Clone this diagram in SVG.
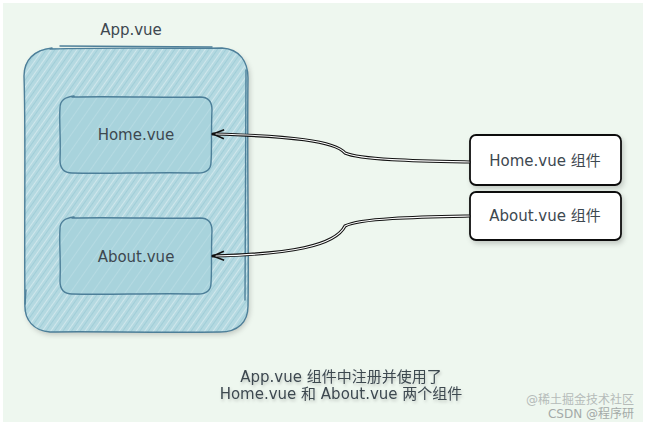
<svg xmlns="http://www.w3.org/2000/svg" width="648" height="427" viewBox="0 0 648 427">
<defs>
<style>
.lbl{font-family:"DejaVu Sans","Noto Sans CJK SC",sans-serif;font-size:15px;fill:#3d4850;text-anchor:middle}
.blue{stroke:#4d7f99;stroke-width:1.4;fill:none;stroke-linecap:round}
.wbox{fill:#ffffff;stroke:#111;stroke-width:1.8}
.conn{fill:none;stroke:#111;stroke-width:3.2;stroke-linecap:round}
.conn2{fill:none;stroke:#fff;stroke-width:1.1;stroke-linecap:round}
.wm{font-family:"DejaVu Sans","Noto Sans CJK SC",sans-serif;font-size:12px;fill:#b5bbb9;text-anchor:end}
</style>
<pattern id="hatch" width="7" height="7" patternUnits="userSpaceOnUse" patternTransform="rotate(35)">
<rect width="7" height="7" fill="#b4d9e1"/>
<line x1="0" y1="0" x2="0" y2="7" stroke="#e0f0f2" stroke-width="1.3"/>
<line x1="3.5" y1="0" x2="3.5" y2="7" stroke="#9ccbd6" stroke-width="0.8"/>
</pattern>
<pattern id="hatch2" width="9" height="9" patternUnits="userSpaceOnUse" patternTransform="rotate(35)">
<rect width="9" height="9" fill="#a8d3dc"/>
<line x1="0" y1="0" x2="0" y2="9" stroke="#c3e2e8" stroke-width="1"/>
</pattern>
<filter id="sh" x="-10%" y="-10%" width="130%" height="130%">
<feDropShadow dx="2" dy="3" stdDeviation="2.5" flood-color="#000" flood-opacity="0.18"/>
</filter>
<filter id="tsh" x="-5%" y="-20%" width="110%" height="160%">
<feDropShadow dx="1" dy="2" stdDeviation="1.5" flood-color="#000" flood-opacity="0.2"/>
</filter>
<marker id="arr" markerWidth="14" markerHeight="14" refX="12" refY="6" orient="auto" markerUnits="userSpaceOnUse">
<path d="M1,1.5 L12,6 L1,10.5" fill="none" stroke="#111" stroke-width="1.6" stroke-linejoin="round"/>
</marker>
</defs>
<rect x="0" y="0" width="648" height="427" fill="#ffffff"/>
<rect x="3" y="3" width="640" height="419" fill="#eef7ef"/>

<g id="app">
<rect x="24" y="48" width="224" height="284" rx="26" fill="url(#hatch)" filter="url(#sh)"/>
<path class="blue" d="M50,49 C120,47 190,49 222,48 C240,49 248,62 248,78 C247,160 249,250 248,306 C248,322 238,332 220,332 C150,333 90,331 50,332 C34,331 24,320 25,304 C24,220 26,140 24,76 C24,60 34,50 52,48"/>
<path class="blue" d="M60,46 L212,47 M26,290 L25,304 M246,70 L245,300" stroke-width="0.9"/>
<text class="lbl" x="131" y="35">App.vue</text>
</g>

<g id="home">
<rect x="60" y="97" width="152" height="76" rx="12" fill="url(#hatch2)"/>
<path class="blue" d="M72,97 C120,96 170,98 200,97 C208,97 212,102 212,110 C211,130 212,150 211,162 C211,170 206,173 198,173 C150,172 110,174 72,173 C64,173 60,168 60,160 C61,140 59,120 60,108 C60,100 65,97 74,96"/>
<text class="lbl" x="136" y="140">Home.vue</text>
</g>

<g id="about">
<rect x="60" y="218" width="152" height="76" rx="12" fill="url(#hatch2)"/>
<path class="blue" d="M72,218 C120,217 170,219 200,218 C208,218 212,223 212,231 C211,251 212,271 211,283 C211,291 206,294 198,294 C150,293 110,295 72,294 C64,294 60,289 60,281 C61,261 59,241 60,229 C60,221 65,218 74,217"/>
<text class="lbl" x="136" y="262">About.vue</text>
</g>

<g id="home-comp">
<rect class="wbox" x="470" y="135" width="151" height="50" rx="6" filter="url(#sh)"/>
<text class="lbl" x="545" y="166">Home.vue 组件</text>
</g>

<g id="about-comp">
<rect class="wbox" x="470" y="192" width="151" height="48" rx="6" filter="url(#sh)"/>
<text class="lbl" x="545" y="221">About.vue 组件</text>
</g>

<g id="connectors">
<path class="conn" d="M469,162 C420,161 360,160 345,153 C335,141 290,136 213,134" marker-end="url(#arr)"/>
<path class="conn2" d="M469,162 C420,161 360,160 345,153 C335,141 290,136 216,134"/>
<path class="conn" d="M469,216 C420,217 360,218 345,226 C335,246 290,254 213,256" marker-end="url(#arr)"/>
<path class="conn2" d="M469,216 C420,217 360,218 345,226 C335,246 290,254 216,256"/>
</g>

<g id="caption" filter="url(#tsh)">
<text class="lbl" x="341" y="382">App.vue 组件中注册并使用了</text>
<text class="lbl" x="341" y="399">Home.vue 和 About.vue 两个组件</text>
</g>
<text class="wm" x="634" y="404">@稀土掘金技术社区</text>
<text class="wm" x="634" y="418" style="fill:#a4aaa8">CSDN @程序研</text>
</svg>
